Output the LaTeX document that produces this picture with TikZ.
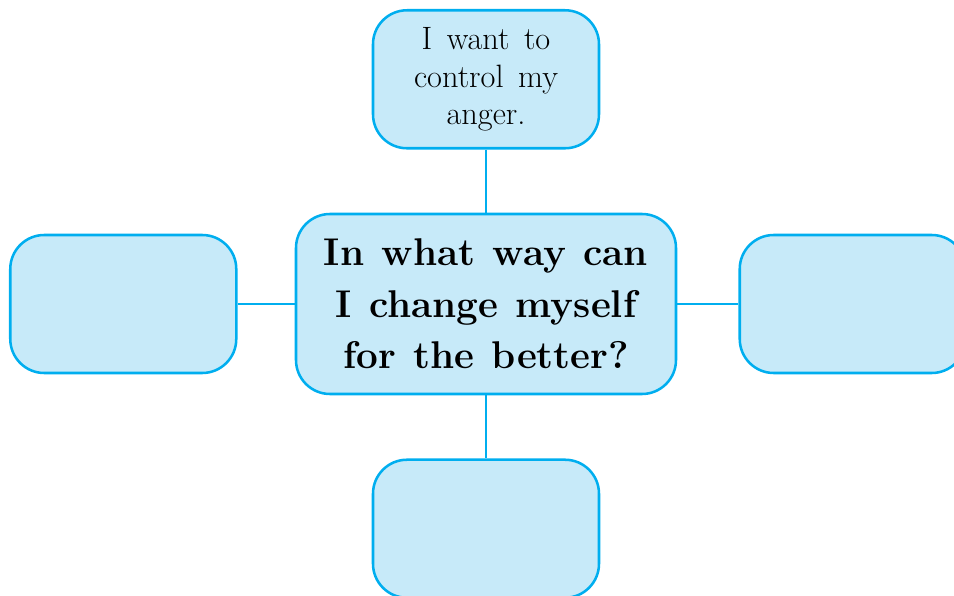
\documentclass[tikz,border=0pt]{standalone}
\usetikzlibrary{shapes, positioning}

\definecolor{boxline}{RGB}{0,174,239}
\definecolor{boxfill}{RGB}{199,234,249}
\newcommand{\widespace}{\spaceskip=.45em\relax}

\begin{document}
\begin{tikzpicture}[
  box/.style={rectangle, rounded corners=0.85cm, draw=boxline, fill=boxfill,
    line width=1.8pt, minimum width=5.65cm, minimum height=3.45cm, align=center},
  link/.style={draw=boxline, line width=1.4pt},
  node distance=1.6cm]

  \clip (-12.15,-7.3) rectangle (11.7,7.6);

  \node[box, minimum width=9.5cm, minimum height=4.5cm,
    font=\fontsize{27.5}{36.5}\selectfont\bfseries] (main)
    {\widespace In what way can\\ \widespace I change myself\\ \widespace for the better?};

  \node[box, above=1.58cm of main,
    font=\fontsize{23}{27}\selectfont] (top)
    {\widespace I want to\\ \widespace control my\\ \widespace anger.};
  \node[box, below=1.58cm of main] (bottom) {};
  \node[box, left=1.43cm of main] (left) {};
  \node[box, right=1.53cm of main] (right) {};

  \draw[link] (top) -- (main);
  \draw[link] (main) -- (bottom);
  \draw[link] (left) -- (main);
  \draw[link] (main) -- (right);
\end{tikzpicture}
\end{document}
